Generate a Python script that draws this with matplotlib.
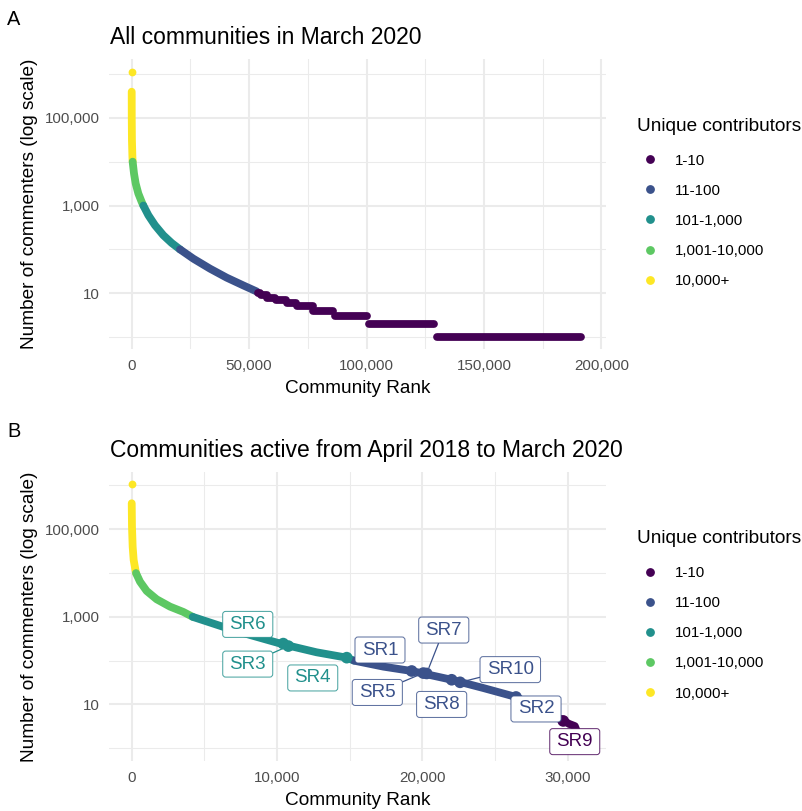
import matplotlib
matplotlib.use('Agg')
import matplotlib.pyplot as plt
from matplotlib.patches import BoxStyle
from matplotlib.lines import Line2D
from matplotlib.ticker import FixedLocator, FuncFormatter, NullFormatter
from matplotlib.colors import to_rgba

plt.rcParams['font.family'] = ['Liberation Sans', 'DejaVu Sans']

# ---------------- data ----------------
groups = ['1-10', '11-100', '101-1,000', '1,001-10,000', '10,000+']
group_colors = ['#440154', '#3B528B', '#21908C', '#5DC863', '#FDE725']

# Panel A: all communities in March 2020 (rank, number of commenters)
a_top_rank = [1]
a_top_value = [1100000]
a_yellow_rank = [2, 20, 100, 300, 400]
a_yellow_value = [393000, 105000, 31000, 12900, 10000]
a_green_rank = [400, 980, 1690, 2830, 4250, 4960]
a_green_value = [10000, 5370, 3180, 1877, 1210, 1000]
a_teal_rank = [4960, 7090, 9920, 13470, 17020, 20570]
a_teal_value = [1000, 601, 355, 210, 140, 100]
a_blue_rank = [20570, 26250, 33350, 40450, 47540, 53220]
a_blue_value = [100, 61.5, 36.4, 22.7, 15.1, 11]
a_step_value = [10, 9, 8, 7, 6, 5, 4, 3, 2, 1]
a_step_start = [53800, 55000, 57750, 61300, 66000, 70500, 77350, 86600, 101100, 130000]
a_step_end = [54800, 57500, 61150, 65700, 70000, 77100, 85900, 100100, 128900, 191500]

# Panel B: communities active from April 2018 to March 2020
b_top_rank = [1]
b_top_value = [1080000]
b_yellow_rank = [2, 20, 67, 135, 296]
b_yellow_value = [393000, 115000, 40000, 20000, 10000]
b_green_rank = [296, 571, 1030, 1718, 2636, 3553, 4200]
b_green_value = [10000, 6370, 3900, 2520, 1713, 1295, 1000]
b_teal_rank = [4200, 6260, 8140, 10390, 12730, 14800, 15300]
b_teal_value = [1000, 597, 386, 237, 155, 117, 100]
b_blue_rank = [15300, 17320, 19270, 22020, 24200, 26450, 27200]
b_blue_value = [100, 73, 58, 36.6, 23.7, 14.8, 11]
b_purple_rank = [27200, 28500, 29600, 30100, 30500, 31090]
b_purple_value = [10, 6.6, 4.5, 3.6, 3.2, 1]

# highlighted communities (panel B)
sr_names = ['SR1', 'SR2', 'SR3', 'SR4', 'SR5', 'SR6', 'SR7', 'SR8', 'SR9', 'SR10']
sr_rank = [19270, 26450, 10780, 14800, 20070, 10430, 20300, 22020, 29700, 22600]
sr_value = [58, 14.8, 215, 117, 52, 245, 51, 36.6, 4.2, 32]
sr_group = ['11-100', '11-100', '101-1,000', '101-1,000', '11-100',
            '101-1,000', '11-100', '11-100', '1-10', '11-100']

# ---------------- layout helpers ----------------
W, H, DPI = 802, 811, 100
fig = plt.figure(figsize=(W / DPI, H / DPI), dpi=DPI)
fig.patch.set_facecolor('white')


def fx(x):
    return x / W


def fy(y):
    return 1 - y / H


color_of = dict(zip(groups, group_colors))
LINE_W = 5.6
TICK_C = '#4D4D4D'
GRID_C = '#EBEBEB'

_round = BoxStyle.Round(pad=0, rounding_size=0.16)


def label_box(x0, y0, width, height, mutation_size):
    px = 0.36 * mutation_size
    py = 0.24 * mutation_size
    return _round(x0 - px, y0 - py, width + 2 * px, height + 2 * py, mutation_size)


def style_axes(ax, xmaj, xmin, xlim, ylim):
    ax.set_yscale('log')
    ax.set_xlim(*xlim)
    ax.set_ylim(*ylim)
    ax.xaxis.set_major_locator(FixedLocator(xmaj))
    ax.xaxis.set_minor_locator(FixedLocator(xmin))
    ax.yaxis.set_major_locator(FixedLocator([10, 1000, 100000]))
    ax.yaxis.set_minor_locator(FixedLocator([1, 100, 10000, 1000000]))
    fmt = FuncFormatter(lambda v, p: f'{int(round(v)):,}')
    ax.xaxis.set_major_formatter(fmt)
    ax.yaxis.set_major_formatter(fmt)
    ax.xaxis.set_minor_formatter(NullFormatter())
    ax.yaxis.set_minor_formatter(NullFormatter())
    ax.tick_params(which='both', length=0)
    ax.tick_params(axis='x', pad=7.2, labelsize=10.9, labelcolor=TICK_C)
    ax.tick_params(axis='y', pad=6.7, labelsize=10.9, labelcolor=TICK_C)
    for s in ax.spines.values():
        s.set_visible(False)
    ax.set_axisbelow(True)
    ax.grid(which='major', color=GRID_C, lw=1.5)
    ax.grid(which='minor', color=GRID_C, lw=0.75)


def draw_series(ax, rank, value, group):
    ax.plot(rank, value, color=color_of[group], lw=LINE_W,
            solid_capstyle='round', solid_joinstyle='round', zorder=2)


def draw_texts(dy, tag, title):
    fig.text(fx(7), fy(25 + dy), tag, fontsize=14.4, ha='left', va='baseline')
    fig.text(fx(110), fy(44.3 + dy), title, fontsize=16.5, ha='left', va='baseline')
    fig.text(fx(30), fy(204 + dy), 'Number of commenters (log scale)', fontsize=13.7,
             rotation=90, ha='center', va='center')
    fig.text(fx(357.7), fy(393 + dy), 'Community Rank', fontsize=13.7,
             ha='center', va='baseline')
    # legend
    fig.text(fx(636.7), fy(130.7 + dy), 'Unique contributors', fontsize=13.7,
             ha='left', va='baseline')
    for i, (g, c) in enumerate(zip(groups, group_colors)):
        yy = 159.3 + 30.1 * i + dy
        fig.add_artist(Line2D([fx(650)], [fy(yy)], marker='o', ms=5.3, color=c,
                              ls='none', transform=fig.transFigure))
        fig.text(fx(675), fy(yy + 5.4), g, fontsize=10.9, ha='left', va='baseline')


# ---------------- Panel A ----------------
axA = fig.add_axes([fx(109.3), fy(349), fx(606) - fx(109.3), (349 - 59.3) / H])
style_axes(axA, [0, 50000, 100000, 150000, 200000],
           [25000, 75000, 125000, 175000], (-9540, 202000), (10 ** -0.27, 10 ** 6.333))
axA.plot(a_top_rank, a_top_value, 'o', color=color_of['10,000+'], ms=5.6,
         mec='none', zorder=2)
draw_series(axA, a_yellow_rank, a_yellow_value, '10,000+')
draw_series(axA, a_green_rank, a_green_value, '1,001-10,000')
draw_series(axA, a_teal_rank, a_teal_value, '101-1,000')
draw_series(axA, a_blue_rank, a_blue_value, '11-100')
for v, s, e in zip(a_step_value, a_step_start, a_step_end):
    draw_series(axA, [s, e], [v, v], '1-10')
draw_texts(0, 'A', 'All communities in March 2020')

# ---------------- Panel B ----------------
DY = 412.4
axB = fig.add_axes([fx(109.3), fy(349 + DY), fx(606) - fx(109.3), (349 - 59.3) / H])
style_axes(axB, [0, 10000, 20000, 30000], [5000, 15000, 25000],
           (-1541, 32643), (10 ** -0.301, 10 ** 6.315))
axB.plot(b_top_rank, b_top_value, 'o', color=color_of['10,000+'], ms=5.6,
         mec='none', zorder=2)
draw_series(axB, b_yellow_rank, b_yellow_value, '10,000+')
draw_series(axB, b_green_rank, b_green_value, '1,001-10,000')
draw_series(axB, b_teal_rank, b_teal_value, '101-1,000')
draw_series(axB, b_blue_rank, b_blue_value, '11-100')
draw_series(axB, b_purple_rank, b_purple_value, '1-10')

axB.scatter(sr_rank, sr_value, s=8.4 ** 2, c=[color_of[g] for g in sr_group],
            edgecolors='none', zorder=3)

# label offsets in pixels (right, down) relative to each point
label_offset = {'SR1': (-31.7, -21), 'SR2': (20, 12), 'SR3': (-40.6, 18),
                'SR4': (-34, 20.3), 'SR5': (-46, 19.4), 'SR6': (-35.5, -19.2),
                'SR7': (17.1, -43.4), 'SR8': (-10, 24.7), 'SR9': (11.5, 20.7),
                'SR10': (50.2, -12.7)}
with_segment = {'SR3', 'SR5', 'SR7', 'SR10'}
for n, r, v, g in zip(sr_names, sr_rank, sr_value, sr_group):
    c = color_of[g]
    dx, dyy = label_offset[n]
    ap = None
    if n in with_segment:
        ap = dict(arrowstyle='-', color=c, lw=0.9, shrinkA=0, shrinkB=4.5)
    axB.annotate(n, xy=(r, v), xytext=(dx * 0.72, -dyy * 0.72),
                 textcoords='offset points', ha='center', va='center',
                 fontsize=13.5, color=c, zorder=5,
                 bbox=dict(boxstyle=label_box, fc='white',
                           ec=to_rgba(c, 0.8), lw=0.75),
                 arrowprops=ap)
draw_texts(DY, 'B', 'Communities active from April 2018 to March 2020')

fig.savefig('out.png', dpi=DPI, facecolor='white')
